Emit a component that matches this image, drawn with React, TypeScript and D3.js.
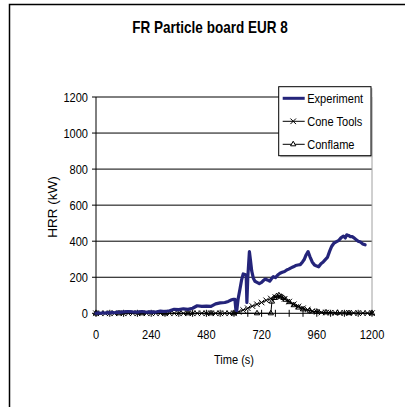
import { useMemo } from "react";
import * as d3 from "d3";

const W = 405;
const H = 407;
const PLOT = { left: 96, right: 372, top: 97, bottom: 313.3 };

const TITLE = "FR Particle board EUR 8";
const X_TICKS = [0, 240, 480, 720, 960, 1200];
const Y_TICKS = [0, 200, 400, 600, 800, 1000, 1200];

// Experiment (measured HRR)
const expTime = [
  0, 10, 20, 30, 40, 50, 60, 70, 80, 90, 100, 120, 140, 160, 180, 200, 220, 240, 260, 280,
  300, 320, 340, 360, 380, 400, 420, 440, 460, 480, 500, 520, 540, 560, 575, 590, 598, 604,
  608, 612, 618, 626, 633, 640, 648, 653, 656, 660, 667, 672, 677, 684, 691, 700, 710, 720,
  728, 736, 745, 755, 763, 771, 780, 790, 800, 810, 820, 829, 838, 848, 858, 868, 878, 888,
  898, 906, 914, 922, 930, 940, 950, 960, 968, 978, 988, 996, 1006, 1016, 1025, 1035, 1046,
  1056, 1066, 1076, 1084, 1090, 1098, 1106, 1114, 1120, 1130, 1140, 1150, 1160, 1170,
];
const expHRR = [
  0, 2, 0, 3, 1, 4, 2, 5, 3, 6, 5, 8, 10, 8, 7, 10, 6, 8, 7, 12,
  10, 14, 22, 20, 25, 22, 28, 42, 38, 40, 38, 52, 58, 60, 66, 75, 78, 78,
  20, 15, 80, 135, 185, 218, 215, 210, 60, 200, 342, 290, 235, 195, 178, 172, 165, 172,
  182, 190, 185, 178, 192, 203, 198, 212, 222, 228, 232, 240, 245, 252, 258, 265, 268, 270,
  285, 300, 325, 342, 315, 285, 268, 262, 258, 275, 285, 296, 310, 345, 372, 390, 398,
  405, 420, 428, 418, 435, 432, 425, 425, 420, 410, 400, 395, 385, 380,
];

// Cone Tools prediction
const coneTime = [
  0, 20, 40, 60, 80, 100, 120, 140, 160, 180, 200, 220, 240, 260, 280, 300, 320, 340, 360, 380,
  400, 420, 440, 460, 480, 500, 520, 540, 560, 580, 600, 620, 640, 660, 680, 700, 720, 740,
  760, 780, 800, 820, 840, 860, 880, 900, 920, 940, 960, 980, 1000, 1020, 1040, 1060, 1080,
  1100, 1120, 1140, 1160, 1180, 1200,
];
const coneHRR = [
  0, 0, 0, 0, 0, 0, 0, 0, 0, 0, 0, 0, 0, 0, 0, 0, 0, 0, 0, 0,
  0, 0, 0, 0, 0, 0, 0, 0, 0, 0, 0, 8, 18, 28, 40, 50, 60, 72,
  82, 90, 92, 80, 65, 50, 38, 28, 20, 12, 8, 5, 4, 3, 3, 2, 2,
  2, 2, 1, 1, 1, 1,
];

// Conflame prediction
const flameTime = [
  0, 100, 200, 300, 400, 500, 600, 700, 760, 765, 775, 785, 795, 805, 815, 825, 840, 860,
  880, 900, 930, 960, 1000, 1050, 1100, 1200,
];
const flameHRR = [
  0, 0, 0, 0, 0, 0, 0, 0, 0, 65, 85, 95, 100, 92, 85, 75, 62, 45,
  32, 22, 14, 9, 5, 3, 1, 0,
];

const SANS = "'Liberation Sans', Arial, sans-serif";
const NAVY = "#24247a";
const SQUEEZE = 0.82;

type Pt = [number, number];

// text drawn a bit narrow, like the squeezed original
function NText({
  x,
  y,
  anchor = "start",
  size = 13.5,
  bold = false,
  dy,
  children,
}: {
  x: number;
  y: number;
  anchor?: "start" | "middle" | "end";
  size?: number;
  bold?: boolean;
  dy?: string;
  children: React.ReactNode;
}) {
  return (
    <g transform={`translate(${x},${y}) scale(${SQUEEZE},1)`}>
      <text
        textAnchor={anchor}
        dy={dy}
        fontFamily={SANS}
        fontSize={size}
        fontWeight={bold ? "bold" : "normal"}
      >
        {children}
      </text>
    </g>
  );
}

export default function App() {
  const x = useMemo(
    () => d3.scaleLinear().domain([0, 1200]).range([PLOT.left, PLOT.right]),
    []
  );
  const y = useMemo(
    () => d3.scaleLinear().domain([0, 1200]).range([PLOT.bottom, PLOT.top]),
    []
  );

  const line = d3
    .line<Pt>()
    .x((d) => x(d[0]))
    .y((d) => y(d[1]));

  const exp: Pt[] = expTime.map((t, i) => [t, expHRR[i]]);
  const cone: Pt[] = coneTime.map((t, i) => [t, coneHRR[i]]);
  const flame: Pt[] = flameTime.map((t, i) => [t, flameHRR[i]]);

  const cross = d3.symbol(d3.symbolTimes, 22)() || "";
  const tri = d3.symbol(d3.symbolTriangle2, 20)() || "";
  const minorTicks = d3.range(0, 1201, 60);

  const legendX = 278.7;
  const legendY = 86.7;
  const rows = [
    { label: "Experiment", kind: "exp" },
    { label: "Cone Tools", kind: "cone" },
    { label: "Conflame", kind: "flame" },
  ];

  return (
    <svg
      width={W}
      height={H}
      style={{ position: "absolute", left: 0, top: 0, background: "#fff" }}
    >
      <rect x={9.5} y={4.5} width={420} height={420} fill="#fff" stroke="#000" strokeWidth={1.5} />

      <NText x={210} y={33} anchor="middle" size={16.5} bold>
        {TITLE}
      </NText>

      {/* grid */}
      {Y_TICKS.filter((v) => v > 0).map((v) => (
        <line key={v} x1={PLOT.left} x2={PLOT.right} y1={y(v)} y2={y(v)} stroke="#000" strokeWidth={1} />
      ))}
      <line x1={PLOT.right} x2={PLOT.right} y1={PLOT.top} y2={PLOT.bottom} stroke="#a0a0a0" strokeWidth={1} />

      {/* y axis */}
      <line x1={PLOT.left} x2={PLOT.left} y1={PLOT.top} y2={PLOT.bottom + 3} stroke="#000" strokeWidth={1} />
      {Y_TICKS.map((v) => (
        <g key={v}>
          <line x1={PLOT.left - 4} x2={PLOT.left} y1={y(v)} y2={y(v)} stroke="#000" />
          <NText x={88} y={y(v)} dy="0.36em" anchor="end">
            {v}
          </NText>
        </g>
      ))}

      {/* x axis */}
      <line x1={PLOT.left} x2={PLOT.right} y1={PLOT.bottom} y2={PLOT.bottom} stroke="#000" strokeWidth={1} />
      {minorTicks.map((t) => (
        <line key={t} x1={x(t)} x2={x(t)} y1={PLOT.bottom - 3.5} y2={PLOT.bottom + 3.5} stroke="#000" />
      ))}
      {X_TICKS.map((t) => (
        <NText key={t} x={x(t)} y={339} anchor="middle">
          {t}
        </NText>
      ))}

      <NText x={234} y={364} anchor="middle">
        Time (s)
      </NText>
      <text
        transform="translate(57,207) rotate(-90)"
        textAnchor="middle"
        fontFamily={SANS}
        fontSize={13.5}
      >
        HRR (kW)
      </text>

      {/* series */}
      <path d={line(flame) || ""} fill="none" stroke="#000" strokeWidth={1} />
      {flame.map((d, i) => (
        <path key={i} d={tri} transform={`translate(${x(d[0])},${y(d[1])})`} fill="none" stroke="#000" strokeWidth={1} />
      ))}
      <path d={line(cone) || ""} fill="none" stroke="#000" strokeWidth={1} />
      {cone.map((d, i) => (
        <path key={i} d={cross} transform={`translate(${x(d[0])},${y(d[1])})`} fill="none" stroke="#000" strokeWidth={1} />
      ))}
      <path
        d={line(exp) || ""}
        fill="none"
        stroke={NAVY}
        strokeWidth={3.2}
        strokeLinejoin="round"
        strokeLinecap="round"
      />

      {/* legend */}
      <rect x={legendX + 1.5} y={legendY + 1.5} width={92.3} height={69} fill="#bbb" />
      <rect x={legendX} y={legendY} width={92.3} height={69} fill="#fff" stroke="#000" strokeWidth={1} />
      {rows.map((r, i) => {
        const cy = legendY + 11.6 + i * 23;
        const mx = legendX + 14.5;
        return (
          <g key={r.label}>
            <line
              x1={legendX + 4}
              x2={legendX + 26}
              y1={cy}
              y2={cy}
              stroke={r.kind === "exp" ? NAVY : "#000"}
              strokeWidth={r.kind === "exp" ? 3 : 1}
            />
            {r.kind === "cone" && (
              <path d={cross} transform={`translate(${mx},${cy})`} fill="none" stroke="#000" />
            )}
            {r.kind === "flame" && (
              <path d={tri} transform={`translate(${mx},${cy})`} fill="#fff" stroke="#000" />
            )}
            <NText x={legendX + 28.5} y={cy} dy="0.36em">
              {r.label}
            </NText>
          </g>
        );
      })}
    </svg>
  );
}
